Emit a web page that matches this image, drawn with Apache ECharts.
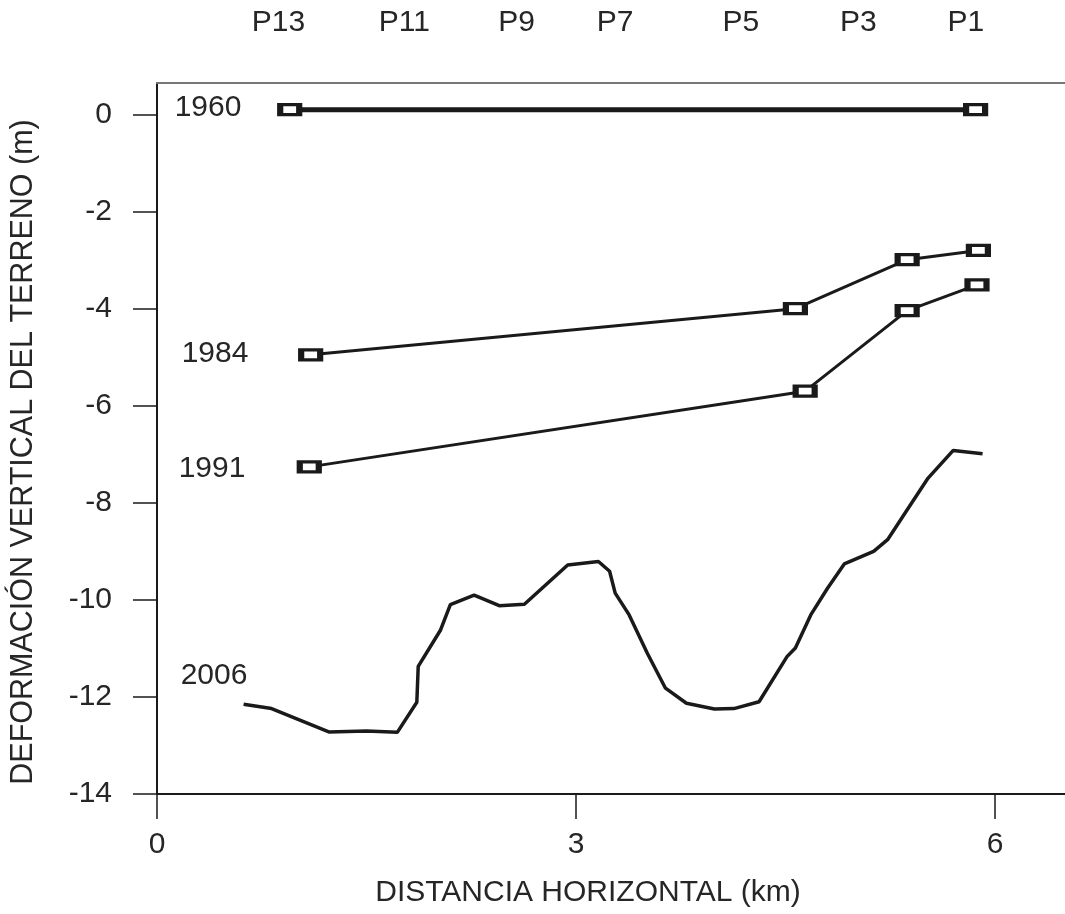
<!DOCTYPE html>
<html>
<head>
<meta charset="utf-8">
<script src="https://cdn.jsdelivr.net/npm/echarts@6/dist/echarts.min.js"></script>
<style>
  html, body { margin: 0; padding: 0; background: #fff; }
  #chart { width: 1065px; height: 914px; }
</style>
</head>
<body>
<div id="chart"></div>
<script>
// perfiles de deformación (km, m)
const x1960 = [0.95, 5.86]
const y1960 = [0.1, 0.1]

const x1984 = [1.10, 4.57, 5.37, 5.88]
const y1984 = [-4.95, -4.00, -2.99, -2.80]

const x1991 = [1.09, 4.64, 5.37, 5.87]
const y1991 = [-7.26, -5.70, -4.04, -3.51]

const x2006 = [0.62, 0.82, 1.23, 1.50, 1.72, 1.86, 1.87, 2.03, 2.10, 2.27, 2.45, 2.63, 2.94, 3.16, 3.24, 3.28, 3.38, 3.51, 3.64, 3.79, 3.99, 4.13, 4.31, 4.51, 4.57, 4.68, 4.80, 4.92, 5.13, 5.23, 5.36, 5.52, 5.70, 5.91]
const y2006 = [-12.15, -12.24, -12.72, -12.70, -12.73, -12.11, -11.37, -10.62, -10.10, -9.90, -10.12, -10.09, -9.28, -9.21, -9.41, -9.86, -10.31, -11.10, -11.82, -12.13, -12.25, -12.24, -12.10, -11.17, -10.99, -10.31, -9.76, -9.26, -9.00, -8.76, -8.19, -7.49, -6.92, -6.99]

// pozos sobre el eje superior
const pointNames = ['P13', 'P11', 'P9', 'P7', 'P5', 'P3', 'P1']
const pointX = [0.87, 1.77, 2.575, 3.28, 4.18, 5.02, 5.79]

const xTicks = [0, 3, 6]
const yTicks = [-14, -12, -10, -8, -6, -4, -2, 0]

const FONT = '"Liberation Sans", Arial, sans-serif'
const TEXT = '#262626'
const INK = '#1a1a1a'

const zip = (xs, ys) => xs.map((x, i) => [x, ys[i]])

const chart = echarts.init(document.getElementById('chart'))

const markerSeries = (name, xs, ys, width) => ({
  name,
  type: 'line',
  data: zip(xs, ys),
  symbol: 'rect',
  symbolSize: [19, 10],
  itemStyle: { color: '#fff', borderColor: INK, borderWidth: 4.5 },
  lineStyle: { color: INK, width },
  emphasis: { disabled: true },
  z: 3
})

const option = {
  animation: false,
  textStyle: { fontFamily: FONT },
  grid: { left: 157, right: 0, top: 83, bottom: 120 },
  xAxis: [{
    type: 'value',
    min: 0,
    max: 6.5,
    splitLine: { show: false },
    axisLine: { onZero: false, lineStyle: { color: INK, width: 2 } },
    axisTick: { customValues: xTicks, length: 25, lineStyle: { color: INK, width: 1.5 } },
    axisLabel: { customValues: xTicks, margin: 36, fontSize: 30, color: TEXT, fontFamily: FONT }
  }, {
    type: 'value',
    position: 'top',
    min: 0,
    max: 6.5,
    splitLine: { show: false },
    axisLine: { show: true, onZero: false, lineStyle: { color: '#777', width: 2 } },
    axisTick: { show: false },
    axisLabel: {
      customValues: pointX,
      margin: 45,
      fontSize: 30,
      color: TEXT,
      fontFamily: FONT,
      formatter: v => {
        let best = 0
        pointX.forEach((p, i) => { if (Math.abs(p - v) < Math.abs(pointX[best] - v)) best = i })
        return pointNames[best]
      }
    }
  }],
  yAxis: {
    type: 'value',
    min: -14,
    max: 0.65,
    splitLine: { show: false },
    axisLine: { onZero: false, lineStyle: { color: INK, width: 2 } },
    axisTick: { customValues: yTicks, length: 24, lineStyle: { color: INK, width: 1.5 } },
    axisLabel: { customValues: yTicks, margin: 45, fontSize: 30, color: TEXT, fontFamily: FONT }
  },
  series: [
    markerSeries('1960', x1960, y1960, 5),
    markerSeries('1984', x1984, y1984, 3),
    markerSeries('1991', x1991, y1991, 3),
    {
      name: '2006',
      type: 'line',
      data: zip(x2006, y2006),
      showSymbol: false,
      lineStyle: { color: INK, width: 3.5 },
      emphasis: { disabled: true }
    }
  ],
  graphic: [
    { type: 'text', x: 208, y: 108, style: { text: '1960', fontSize: 30, fontFamily: FONT, fill: TEXT, align: 'center', verticalAlign: 'middle' } },
    { type: 'text', x: 215, y: 354, style: { text: '1984', fontSize: 30, fontFamily: FONT, fill: TEXT, align: 'center', verticalAlign: 'middle' } },
    { type: 'text', x: 212, y: 469, style: { text: '1991', fontSize: 30, fontFamily: FONT, fill: TEXT, align: 'center', verticalAlign: 'middle' } },
    { type: 'text', x: 214, y: 676, style: { text: '2006', fontSize: 30, fontFamily: FONT, fill: TEXT, align: 'center', verticalAlign: 'middle' } },
    { type: 'text', x: 588, y: 893, style: { text: 'DISTANCIA HORIZONTAL (km)', fontSize: 30, fontFamily: FONT, fill: TEXT, align: 'center', verticalAlign: 'middle' } },
    { type: 'text', x: 24, y: 452, rotation: Math.PI / 2, style: { text: 'DEFORMACIÓN VERTICAL DEL TERRENO (m)', fontSize: 30.5, fontFamily: FONT, fill: TEXT, align: 'center', verticalAlign: 'middle' } }
  ]
}

chart.setOption(option)
</script>
</body>
</html>
